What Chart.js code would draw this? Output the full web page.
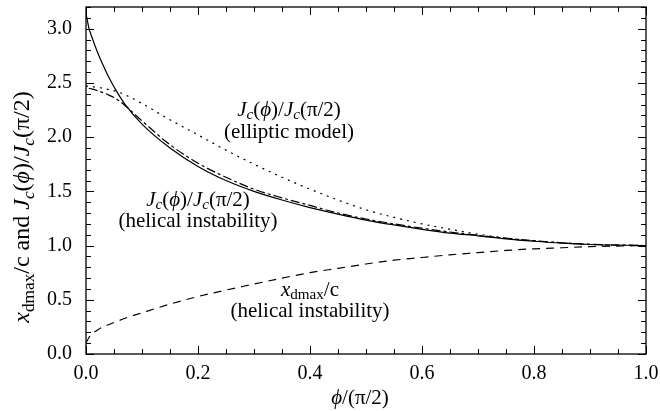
<!DOCTYPE html>
<html>
<head>
<meta charset="utf-8">
<script src="https://cdn.jsdelivr.net/npm/chart.js@4"></script>
<style>
  html, body { margin: 0; padding: 0; background: #fff; }
  #wrap { width: 660px; height: 411px; }
</style>
</head>
<body>
<div id="wrap"><canvas id="chart" width="660" height="411"></canvas></div>
<script>
// phi/(pi/2) sample positions shared by all curves
const phi = [0, 0.005, 0.01, 0.02, 0.03, 0.04, 0.055, 0.07, 0.1, 0.15, 0.2, 0.25, 0.3, 0.35, 0.4, 0.45, 0.5, 0.55, 0.6, 0.65, 0.7, 0.75, 0.8, 0.85, 0.9, 1.0];

// Jc(phi)/Jc(pi/2), helical instability (solid)
const jcHelical = [3.14, 3.01, 2.93, 2.79, 2.67, 2.56, 2.42, 2.30, 2.12, 1.90, 1.73, 1.60, 1.50, 1.42, 1.35, 1.29, 1.235, 1.19, 1.15, 1.115, 1.09, 1.062, 1.04, 1.022, 1.01, 1.0];
// unlabelled dash-dot curve
const jcDashDot = [null, 2.45, 2.445, 2.43, 2.41, 2.39, 2.35, 2.29, 2.15, 1.93, 1.76, 1.63, 1.52, 1.44, 1.37, 1.30, 1.245, 1.2, 1.16, 1.125, 1.095, 1.068, 1.045, 1.026, 1.012, 1.0];
// Jc(phi)/Jc(pi/2), elliptic model (dotted)
const jcElliptic = [2.47, 2.47, 2.465, 2.46, 2.45, 2.44, 2.42, 2.39, 2.31, 2.16, 2.02, 1.88, 1.75, 1.63, 1.52, 1.42, 1.33, 1.26, 1.20, 1.15, 1.105, 1.068, 1.043, 1.024, 1.01, 1.0];
// x_dmax/c, helical instability (dashed)
const xdmax = [0.10, 0.15, 0.18, 0.22, 0.25, 0.27, 0.30, 0.33, 0.38, 0.46, 0.53, 0.59, 0.645, 0.70, 0.75, 0.79, 0.83, 0.865, 0.89, 0.915, 0.935, 0.955, 0.97, 0.98, 0.99, 1.0];

const serif = "'Liberation Serif', 'DejaVu Serif', serif";

function pts(ys) {
    let out = [];
    for (let i = 0; i < phi.length; i++) {
        if (ys[i] !== null) out.push({ x: phi[i], y: ys[i] });
    }
    return out;
}

function line(ys, dash) {
    return {
        data: pts(ys),
        showLine: true,
        borderColor: '#000',
        borderWidth: 1.2,
        borderDash: dash,
        pointRadius: 0,
        fill: false,
        cubicInterpolationMode: 'monotone'
    };
}

// parts = [[text, style]], style: 'n' normal, 'i' italic, 's' subscript, 'is' italic subscript
function fontFor(style, size) {
    let s = (style === 's' || style === 'is') ? size * 0.72 : size;
    let it = (style === 'i' || style === 'is') ? 'italic ' : '';
    return it + s + 'px ' + serif;
}
function richWidth(ctx, parts, size) {
    let w = 0;
    for (const p of parts) {
        ctx.font = fontFor(p[1], size);
        w += ctx.measureText(p[0]).width;
    }
    return w;
}
function drawRich(ctx, parts, cx, cy, size) {
    let x = cx - richWidth(ctx, parts, size) / 2;
    ctx.textBaseline = 'middle';
    ctx.textAlign = 'left';
    for (const p of parts) {
        ctx.font = fontFor(p[1], size);
        let dy = (p[1] === 's' || p[1] === 'is') ? size * 0.25 : 0;
        ctx.fillText(p[0], x, cy + dy);
        x += ctx.measureText(p[0]).width;
    }
}

const jcText = [['J', 'i'], ['c', 'is'], ['(', 'n'], ['\u03d5', 'i'], [')/', 'n'], ['J', 'i'], ['c', 'is'], ['(\u03c0/2)', 'n']];

const decor = {
    id: 'decor',
    afterDraw(chart) {
        const ctx = chart.ctx;
        const a = chart.chartArea;
        const xs = chart.scales.x, ys = chart.scales.y;
        ctx.save();
        ctx.strokeStyle = '#000';
        ctx.fillStyle = '#000';
        ctx.lineWidth = 1.3;
        ctx.strokeRect(a.left, a.top, a.right - a.left, a.bottom - a.top);
        ctx.lineWidth = 1;
        ctx.beginPath();
        for (const t of xs.ticks) {
            let px = Math.round(xs.getPixelForValue(t.value)) + 0.5;
            let major = Math.abs(t.value * 5 - Math.round(t.value * 5)) < 1e-6;
            let len = major ? 8 : 5;
            ctx.moveTo(px, a.bottom); ctx.lineTo(px, a.bottom - len);
            ctx.moveTo(px, a.top); ctx.lineTo(px, a.top + len);
        }
        for (const t of ys.ticks) {
            let py = Math.round(ys.getPixelForValue(t.value)) + 0.5;
            let major = Math.abs(t.value * 2 - Math.round(t.value * 2)) < 1e-6;
            let len = major ? 8 : 5;
            ctx.moveTo(a.left, py); ctx.lineTo(a.left + len, py);
            ctx.moveTo(a.right, py); ctx.lineTo(a.right - len, py);
        }
        ctx.stroke();

        // curve annotations
        const fs = 21;
        drawRich(ctx, jcText, xs.getPixelForValue(0.3625), ys.getPixelForValue(2.25), fs);
        drawRich(ctx, [['(elliptic model)', 'n']], xs.getPixelForValue(0.3625), ys.getPixelForValue(2.04), fs);
        drawRich(ctx, jcText, xs.getPixelForValue(0.2), ys.getPixelForValue(1.42), fs);
        drawRich(ctx, [['(helical instability)', 'n']], xs.getPixelForValue(0.2), ys.getPixelForValue(1.22), fs);
        drawRich(ctx, [['x', 'i'], ['dmax', 's'], ['/c', 'n']], xs.getPixelForValue(0.4), ys.getPixelForValue(0.59), fs);
        drawRich(ctx, [['(helical instability)', 'n']], xs.getPixelForValue(0.4), ys.getPixelForValue(0.39), fs);

        // axis titles
        drawRich(ctx, [['\u03d5', 'i'], ['/(\u03c0/2)', 'n']], 360, 398, 21);
        ctx.translate(23, 207);
        ctx.rotate(-Math.PI / 2);
        drawRich(ctx, [['x', 'i'], ['dmax', 's'], ['/c and ', 'n']].concat(jcText), 0, 0, 24);
        ctx.restore();
    }
};

new Chart(document.getElementById('chart'), {
    type: 'scatter',
    data: {
        datasets: [
            line(jcHelical, []),
            line(jcDashDot, [9, 3, 3, 3]),
            line(jcElliptic, [2, 5]),
            line(xdmax, [8, 6])
        ]
    },
    options: {
        responsive: false,
        animation: false,
        layout: { padding: { top: 7, right: 14, left: 0, bottom: 0 } },
        plugins: { legend: { display: false }, tooltip: { enabled: false } },
        scales: {
            x: {
                type: 'linear', min: 0, max: 1,
                grid: { display: false },
                border: { display: false },
                ticks: {
                    stepSize: 0.05, autoSkip: false, maxRotation: 0, padding: 0,
                    color: '#000', font: { family: serif, size: 20 },
                    callback: v => (Math.abs(v * 5 - Math.round(v * 5)) < 1e-6) ? v.toFixed(1) : ''
                },
                afterFit: s => { s.height = 57; s.paddingLeft = 0; s.paddingRight = 0; }
            },
            y: {
                type: 'linear', min: 0, max: 3.2,
                grid: { display: false },
                border: { display: false },
                ticks: {
                    stepSize: 0.1, autoSkip: false, padding: 6,
                    color: '#000', font: { family: serif, size: 20 },
                    callback: v => (Math.abs(v * 2 - Math.round(v * 2)) < 1e-6) ? v.toFixed(1) : ''
                },
                afterFit: s => { s.width = 86; s.paddingTop = 0; s.paddingBottom = 0; }
            }
        }
    },
    plugins: [decor]
});
</script>
</body>
</html>
